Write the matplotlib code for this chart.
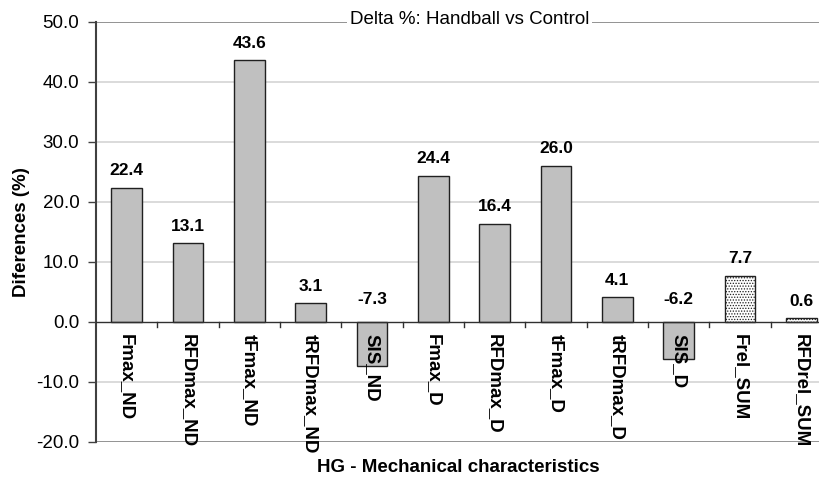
import matplotlib
matplotlib.use("Agg")
import matplotlib.pyplot as plt

plt.rcParams["font.family"] = ["Liberation Sans", "DejaVu Sans"]
plt.rcParams["hatch.color"] = "#A0A0A0"
plt.rcParams["hatch.linewidth"] = 0.6

categories = ["Fmax_ND", "RFDmax_ND", "tFmax_ND", "tRFDmax_ND", "SIS_ND",
              "Fmax_D", "RFDmax_D", "tFmax_D", "tRFDmax_D", "SIS_D",
              "Frel_SUM", "RFDrel_SUM"]
values = [22.4, 13.1, 43.6, 3.1, -7.3, 24.4, 16.4, 26.0, 4.1, -6.2, 7.7, 0.6]
dotted = [False] * 10 + [True, True]

fig = plt.figure(figsize=(8.2, 4.82), dpi=100)
ax = fig.add_axes([96 / 820, 40 / 482, 736 / 820, 420 / 482])

xs = list(range(len(categories)))
for x, v, d in zip(xs, values, dotted):
    if d:
        ax.bar(x, v, width=0.5, color="white", edgecolor="#202020",
               linewidth=1.0, hatch="......", zorder=3)
    else:
        ax.bar(x, v, width=0.5, color="#C0C0C0", edgecolor="#202020",
               linewidth=1.0, zorder=3)

for x, v in zip(xs, values):
    if v >= 0:
        ax.annotate(f"{v:.1f}", (x, v), xytext=(0, 7), textcoords="offset points",
                    ha="center", va="bottom", fontsize=12.5, fontweight="bold")
    else:
        ax.annotate(f"{v:.1f}", (x, 0), xytext=(0, 11), textcoords="offset points",
                    ha="center", va="bottom", fontsize=12.5, fontweight="bold")

for x, c in zip(xs, categories):
    ax.annotate(c, (x, 0), xytext=(0, -9), textcoords="offset points",
                ha="center", va="top", rotation=-90, fontsize=13.5,
                fontweight="bold", zorder=4)

ax.set_xlim(-0.5, len(categories) - 0.5)
ax.set_ylim(-20, 50)
ax.set_yticks(range(-20, 51, 10))
ax.set_yticklabels([f"{t:.1f}" for t in range(-20, 51, 10)], fontsize=13.5)
ax.tick_params(axis="y", direction="out", length=6, width=1, color="#404040", pad=6)
ax.set_xticks([])

for t in range(-10, 50, 10):
    if t != 0:
        ax.axhline(t, color="#D4D4D4", linewidth=1.2, zorder=1)
ax.axhline(50, color="#808080", linewidth=1.2, zorder=2)
ax.axhline(-20, color="#808080", linewidth=1.2, zorder=2)
ax.axhline(0, color="#303030", linewidth=1.0, zorder=4)

# category separator ticks on the zero line
for b in range(1, len(categories) + 1):
    ax.plot([b - 0.5, b - 0.5], [0, -0.9], color="#303030", linewidth=1.0,
            zorder=4, clip_on=False)

for s in ["top", "right", "bottom"]:
    ax.spines[s].set_visible(False)
ax.spines["left"].set_color("#404040")
ax.spines["left"].set_linewidth(1.5)

ax.set_ylabel("Diferences (%)", fontsize=13.5, fontweight="bold")
ax.yaxis.set_label_coords(-66 / 736, 0.5)

fig.text(470 / 820, 1 - 20 / 482, "Delta %: Handball vs Control", ha="center",
         va="center", fontsize=13.5,
         bbox=dict(facecolor="white", edgecolor="none", pad=2))
fig.text(458 / 820, 1 - 467 / 482, "HG - Mechanical characteristics",
         ha="center", va="center", fontsize=13.5, fontweight="bold")

fig.savefig("out.png", dpi=100)
